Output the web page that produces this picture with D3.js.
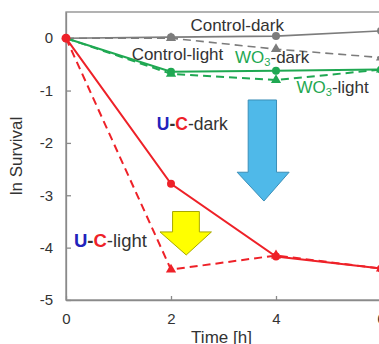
<!DOCTYPE html>
<html><head><meta charset="utf-8">
<script src="https://cdn.jsdelivr.net/npm/d3@7"></script>
<style>
html,body{margin:0;padding:0;background:#fff;}
svg{display:block;font-family:Arial,"Liberation Sans",sans-serif;}
</style></head>
<body>
<svg id="chart" width="379" height="344"></svg>
<script>
// ---- data ----
const time = [0, 2, 4, 6];
const controlDark  = [0, 0.02, 0.04, 0.14];
const controlLight = [0, 0.0, -0.21, -0.37];
const wo3Dark      = [0, -0.64, -0.62, -0.60];
const wo3Light     = [0, -0.68, -0.80, -0.60];
const ucDark       = [0, -2.78, -4.17, -4.40];
const ucLight      = [0, -4.42, -4.15, -4.40];
const xTicks = [0, 2, 4, 6];
const yTicks = [0, -1, -2, -3, -4, -5];
const xLabel = "Time [h]";
const yLabel = "ln Survival";

const svg = d3.select("#chart");
const x = d3.scaleLinear().domain([0, 6]).range([66, 381]);
const y = d3.scaleLinear().domain([-5, 0.5]).range([300, 12]);

const axisCol = "#8a8a8a";
// frame
svg.append("rect").attr("x", x(0)).attr("y", y(0.5))
  .attr("width", x(6) - x(0)).attr("height", y(-5) - y(0.5))
  .attr("fill", "none").attr("stroke", axisCol).attr("stroke-width", 1.3);

// axes with inward ticks
const fmt = d => String(d);
const yAxis = svg.append("g").attr("transform", `translate(${x(0)},0)`)
  .call(d3.axisLeft(y).tickValues(yTicks).tickSizeInner(-5).tickSizeOuter(0).tickPadding(13).tickFormat(fmt));
const xAxis = svg.append("g").attr("transform", `translate(0,${y(-5)})`)
  .call(d3.axisBottom(x).tickValues(xTicks).tickSizeInner(-4).tickSizeOuter(0).tickPadding(13).tickFormat(fmt));
[yAxis, xAxis].forEach(g => {
  g.select(".domain").attr("stroke", axisCol).attr("stroke-width", 1.3);
  g.selectAll(".tick line").attr("stroke", axisCol).attr("stroke-width", 1.3);
  g.selectAll(".tick text").attr("fill", "#333").style("font-size", "15px").style("font-family", "Arial, 'Liberation Sans', sans-serif");
});

svg.append("text").attr("x", (x(2) + x(4)) / 2 - 2).attr("y", 343)
  .attr("text-anchor", "middle").attr("fill", "#333").style("font-size", "17px").text(xLabel);
svg.append("text").attr("transform", `translate(22,${y(-2.25)}) rotate(-90)`)
  .attr("text-anchor", "middle").attr("fill", "#333").style("font-size", "17px").text(yLabel);

// annotation arrows (in data coords)
function arrow(bx0, bx1, hx0, hx1, tx, yTop, yHead, yTip, fill, stroke) {
  const pts = [[bx0, yTop], [bx1, yTop], [bx1, yHead], [hx1, yHead], [tx, yTip], [hx0, yHead], [bx0, yHead]]
    .map(p => [x(p[0]), y(p[1])]);
  svg.append("polygon").attr("points", pts.map(p => p.join(",")).join(" "))
    .attr("fill", fill).attr("stroke", stroke).attr("stroke-width", 1);
}
arrow(3.47, 4.01, 3.26, 4.25, 3.77, -1.18, -2.56, -3.11, "#4fb9e9", "#3b8fb8");
arrow(2.03, 2.54, 1.79, 2.77, 2.29, -3.31, -3.70, -4.14, "#ffff00", "#a8a800");

// series
const grey = "#7c7c7c", green = "#1fa852", red = "#ee2128";
const series = [
  {v: controlDark, c: grey, dash: null, m: "circle", w: 1.6},
  {v: controlLight, c: grey, dash: "8,5", m: "tri", w: 1.6},
  {v: wo3Dark, c: green, dash: null, m: "circle", w: 2},
  {v: wo3Light, c: green, dash: "8,5", m: "tri", w: 2},
  {v: ucDark, c: red, dash: null, m: "circle", w: 2},
  {v: ucLight, c: red, dash: "8,5", m: "tri", w: 2}
];
const line = d3.line().x(d => x(d[0])).y(d => y(d[1]));
series.forEach(s => {
  const pts = time.map((t, i) => [t, s.v[i]]);
  svg.append("path").attr("d", line(pts)).attr("fill", "none")
    .attr("stroke", s.c).attr("stroke-width", s.w).attr("stroke-dasharray", s.dash);
  const sym = d3.symbol().type(s.m === "circle" ? d3.symbolCircle : d3.symbolTriangle).size(s.m === "circle" ? 50 : 45);
  svg.selectAll(null).data(pts.slice(1)).enter().append("path")
    .attr("d", sym).attr("transform", d => `translate(${x(d[0])},${y(d[1])})`).attr("fill", s.c);
});
// start point
svg.append("circle").attr("cx", x(0)).attr("cy", y(0)).attr("r", 4.5).attr("fill", red);

// labels
const dark = "#333";
function label(px, py, size, parts) {
  const t = svg.append("text").attr("x", x(px)).attr("y", y(py)).style("font-size", size + "px");
  parts.forEach(p => {
    const ts = t.append("tspan").attr("fill", p.c).text(p.t);
    if (p.b) ts.attr("font-weight", "bold");
    if (p.sub) ts.attr("baseline-shift", "-30%").style("font-size", (size * 0.65) + "px");
  });
}
label(2.37, 0.14, 17, [{t: "Control-dark", c: dark}]);
label(1.25, -0.41, 17, [{t: "Control-light", c: dark}]);
label(3.22, -0.48, 17, [{t: "WO", c: green}, {t: "3", c: green, sub: true}, {t: "-dark", c: dark}]);
label(4.39, -1.05, 17, [{t: "WO", c: green}, {t: "3", c: green, sub: true}, {t: "-light", c: dark}]);
label(1.73, -1.75, 17.5, [{t: "U", c: "#2222bb", b: true}, {t: "-", c: dark, b: true}, {t: "C", c: red, b: true}, {t: "-dark", c: dark}]);
label(0.15, -3.98, 18.5, [{t: "U", c: "#2222bb", b: true}, {t: "-", c: dark, b: true}, {t: "C", c: red, b: true}, {t: "-light", c: dark}]);
</script>
</body></html>
